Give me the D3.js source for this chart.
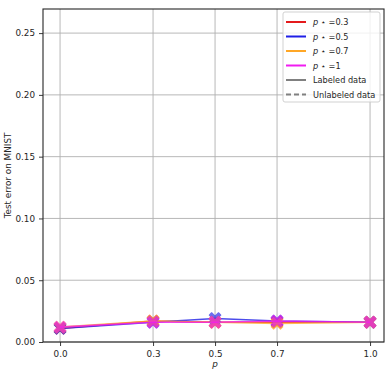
<!DOCTYPE html>
<html>
<head>
<meta charset="utf-8">
<script src="https://cdn.jsdelivr.net/npm/d3@7"></script>
<style>
  body { margin: 0; background: #fff; }
  text { font-family: "DejaVu Sans", sans-serif; fill: #262626; }
</style>
</head>
<body>
<div id="chart"></div>
<script>
// values
const xValues = [0.0, 0.3, 0.5, 0.7, 1.0];
const xTicks = ["0.0", "0.3", "0.5", "0.7", "1.0"];
const yTicks = [0, 0.05, 0.10, 0.15, 0.20, 0.25];
const seriesNames = ["0.3", "0.5", "0.7", "1"];
const seriesColors = ["#e41a1c", "#1f1fe6", "#ffa726", "#f01cf0"];
const errP03 = [0.011, 0.017, 0.016, 0.016, 0.016];
const errP05 = [0.011, 0.016, 0.019, 0.017, 0.016];
const errP07 = [0.012, 0.017, 0.016, 0.015, 0.016];
const errP1 = [0.012, 0.016, 0.016, 0.017, 0.016];
const allSeries = [errP03, errP05, errP07, errP1];

const width = 387, height = 375;
const margin = { top: 9, right: 3, bottom: 33, left: 43 };

const svg = d3.select("#chart").append("svg")
  .attr("width", width)
  .attr("height", height);

const x = d3.scaleLinear()
  .domain([-0.055, 1.045])
  .range([margin.left, width - margin.right]);

const y = d3.scaleLinear()
  .domain([0, 0.2695])
  .range([height - margin.bottom, margin.top]);

// grid
svg.append("g")
  .selectAll("line.vg")
  .data(xValues)
  .enter().append("line")
  .attr("x1", d => x(d)).attr("x2", d => x(d))
  .attr("y1", margin.top).attr("y2", height - margin.bottom)
  .attr("stroke", "#b0b0b0").attr("stroke-width", 0.9);

svg.append("g")
  .selectAll("line.hg")
  .data(yTicks)
  .enter().append("line")
  .attr("x1", margin.left).attr("x2", width - margin.right)
  .attr("y1", d => y(d)).attr("y2", d => y(d))
  .attr("stroke", "#b0b0b0").attr("stroke-width", 0.9);

// axes
const xAxis = svg.append("g")
  .attr("transform", `translate(0,${height - margin.bottom})`)
  .call(d3.axisBottom(x).tickValues(xValues).tickFormat((d, i) => xTicks[i]).tickSize(4).tickPadding(5));

const yAxis = svg.append("g")
  .attr("transform", `translate(${margin.left},0)`)
  .call(d3.axisLeft(y).tickValues(yTicks).tickFormat(d3.format(".2f")).tickSize(4).tickPadding(4));

[xAxis, yAxis].forEach(g => {
  g.select(".domain").remove();
  g.selectAll("line").attr("stroke", "#262626").attr("stroke-width", 0.9);
  g.selectAll("text").style("font-size", "8.8px").style("font-family", "DejaVu Sans").attr("fill", "#262626");
});

// frame
svg.append("rect")
  .attr("x", margin.left).attr("y", margin.top)
  .attr("width", width - margin.left - margin.right)
  .attr("height", height - margin.top - margin.bottom)
  .attr("fill", "none").attr("stroke", "#262626").attr("stroke-width", 1.1);

// lines and markers
const line = d3.line()
  .x((d, i) => x(xValues[i]))
  .y(d => y(d));

const xMarker = "M-5,-3 L-3,-5 L0,-2 L3,-5 L5,-3 L2,0 L5,3 L3,5 L0,2 L-3,5 L-5,3 L-2,0 Z";

allSeries.forEach((vals, k) => {
  svg.append("path")
    .datum(vals)
    .attr("d", line)
    .attr("fill", "none")
    .attr("stroke", seriesColors[k])
    .attr("stroke-width", 1.6)
    .attr("opacity", 0.8);

  svg.append("g")
    .selectAll("path")
    .data(vals)
    .enter().append("path")
    .attr("d", xMarker)
    .attr("transform", (d, i) => `translate(${x(xValues[i])},${y(d)}) scale(1.15)`)
    .attr("fill", seriesColors[k])
    .attr("stroke", seriesColors[k])
    .attr("stroke-width", 1)
    .attr("stroke-linejoin", "round")
    .attr("opacity", 0.65);
});

// axis labels
svg.append("text")
  .attr("x", x(0.5)).attr("y", 367)
  .attr("text-anchor", "middle")
  .style("font-size", "8.8px").style("font-style", "italic")
  .text("p");

svg.append("text")
  .attr("transform", `translate(11,${(margin.top + height - margin.bottom) / 2}) rotate(-90)`)
  .attr("text-anchor", "middle")
  .style("font-size", "8.8px")
  .text("Test error on MNIST");

// legend
const lg = svg.append("g").attr("transform", "translate(283,12)");
lg.append("rect")
  .attr("width", 97).attr("height", 90).attr("rx", 2)
  .attr("fill", "#fff").attr("fill-opacity", 0.8)
  .attr("stroke", "#cccccc").attr("stroke-width", 0.9);

const legendItems = seriesNames.map((n, i) => ({ name: n, color: seriesColors[i], dash: null, kind: "p" }))
  .concat([
    { name: "Labeled data", color: "#808080", dash: null, kind: "t" },
    { name: "Unlabeled data", color: "#808080", dash: "5,3", kind: "t" }
  ]);

legendItems.forEach((d, i) => {
  const yy = 10 + i * 14.5;
  lg.append("line")
    .attr("x1", 3).attr("x2", 23)
    .attr("y1", yy).attr("y2", yy)
    .attr("stroke", d.color).attr("stroke-width", 2)
    .attr("stroke-dasharray", d.dash);
  const t = lg.append("text")
    .attr("x", 30).attr("y", yy + 3)
    .style("font-size", "8.2px");
  if (d.kind === "p") {
    t.append("tspan").style("font-style", "italic").text("p");
    t.append("tspan").text(" \u22c6 =" + d.name);
  } else {
    t.text(d.name);
  }
});
</script>
</body>
</html>
